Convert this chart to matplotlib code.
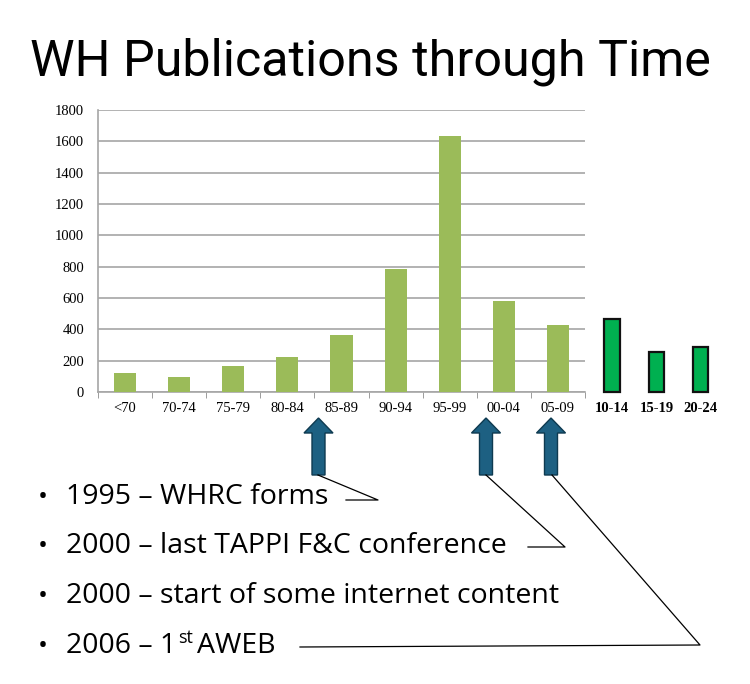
import matplotlib
matplotlib.use("Agg")
import matplotlib.pyplot as plt
import matplotlib.patches as mpatches
import matplotlib.transforms as mtransforms
import numpy as np

# datos
periodos = ["<70", "70-74", "75-79", "80-84", "85-89", "90-94", "95-99", "00-04", "05-09"]
publicaciones = [120, 95, 165, 225, 365, 785, 1635, 583, 428]
periodos_nuevos = ["10-14", "15-19", "20-24"]
publicaciones_nuevas = [466, 255, 289]

hitos = ["1995 – WHRC forms",
         "2000 – last TAPPI F&C conference",
         "2000 – start of some internet content",
         "2006 – 1"]

W, H = 750, 684
fig = plt.figure(figsize=(W / 100, H / 100), dpi=100)
# coordenadas en pixeles desde arriba a la izquierda
px = mtransforms.Affine2D().scale(1 / W, -1 / H).translate(0, 1) + fig.transFigure

fuente = "Open Sans"
serif = "Liberation Serif"

fig.text(370, 76, "WH Publications through Time", transform=px, ha="center",
         va="baseline", fontsize=36.2, family="Roboto")

ax = fig.add_axes([98 / W, 1 - 392 / H, (585 - 98) / W, (392 - 110) / H])
x = np.arange(len(periodos))
ax.bar(x, publicaciones, width=0.41, color="#9bbb59", zorder=3)

# barras nuevas, fuera del eje
x_nuevo = [9.0, 9.82, 10.64]
ax.bar(x_nuevo, publicaciones_nuevas, width=0.28, color="#00b050",
       edgecolor="#111111", linewidth=1.6, clip_on=False, zorder=3)
for xi, et in zip(x_nuevo, periodos_nuevos):
    ax.annotate(et, xy=(xi, 0), xycoords=("data", "axes fraction"),
                xytext=(0, -7.5), textcoords="offset points", ha="center", va="top",
                fontsize=10.5, fontweight="bold", family=serif, annotation_clip=False)

ax.set_xlim(-0.5, 8.5)
ax.set_ylim(0, 1800)
ax.set_yticks(np.arange(0, 1801, 200))
ax.set_xticks(x)
ax.set_xticklabels(periodos)
ax.set_xticks(np.arange(-0.5, 9, 1), minor=True)
ax.tick_params(axis="x", which="major", length=0, pad=7.5, labelsize=10.5)
ax.tick_params(axis="x", which="minor", length=4, color="#8c8c8c", direction="out")
ax.tick_params(axis="y", length=0, pad=10, labelsize=10.5)
for lab in ax.get_xticklabels() + ax.get_yticklabels():
    lab.set_family(serif)
ax.grid(axis="y", color="#a6a6a6", linewidth=1.2, zorder=0)
for s in ["top", "right"]:
    ax.spines[s].set_visible(False)
for s in ["left", "bottom"]:
    ax.spines[s].set_color("#a6a6a6")
    ax.spines[s].set_linewidth(1.2)

# flechas
for xc in [318.5, 486, 551]:
    flecha = mpatches.FancyArrow(xc, 475, 0, -57, width=13, head_width=29,
                                 head_length=15, length_includes_head=True,
                                 transform=px, facecolor="#1d6082",
                                 edgecolor="#0e3a50", linewidth=1.0)
    fig.add_artist(flecha)

# lineas de conexion
lineas = [
    ([318, 378, 346], [475, 500, 500]),
    ([486, 565, 528], [475, 547, 547]),
    ([552, 700, 300], [475, 645, 647]),
]
for lx, ly in lineas:
    fig.add_artist(plt.Line2D(lx, ly, transform=px, color="black", linewidth=0.9))

# viñetas
bases = [504, 553, 603, 653]
textos = []
for t, yb in zip(hitos, bases):
    fig.text(43, yb, "•", transform=px, ha="center", va="baseline", fontsize=19, family=fuente)
    textos.append(fig.text(66, yb, t, transform=px, ha="left", va="baseline",
                           fontsize=20.5, family=fuente))

ult = textos[-1]
sup = ax.annotate("st", xy=(1, 643), xycoords=(ult, px), xytext=(1, 0),
                  textcoords="offset points", ha="left", va="baseline",
                  fontsize=13, family=fuente, annotation_clip=False)
ax.annotate("AWEB", xy=(1, 653), xycoords=(sup, px), xytext=(3, 0),
            textcoords="offset points", ha="left", va="baseline",
            fontsize=20.5, family=fuente, annotation_clip=False)

fig.savefig("out.png", dpi=100)
